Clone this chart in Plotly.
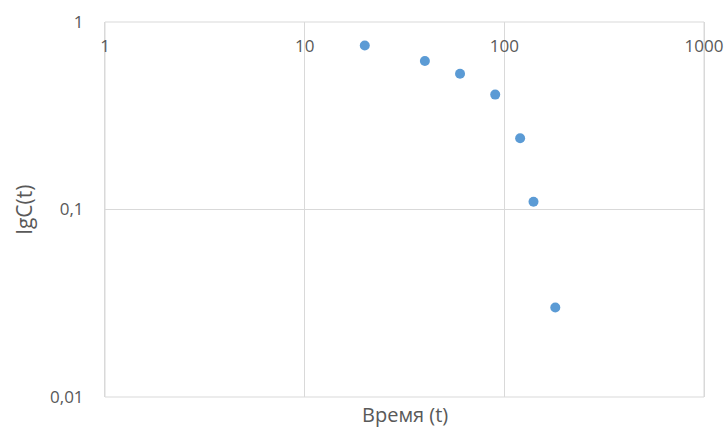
import plotly.graph_objects as go

# data
time_t = [20, 40, 60, 90, 120, 140, 180]
lg_c = [0.75, 0.62, 0.53, 0.41, 0.24, 0.11, 0.03]

x_ticks = [1, 10, 100, 1000]
x_labels = ["1", "10", "100", "1000"]
y_ticks = [0.01, 0.1, 1]
y_labels = ["0,01", "0,1", "1"]

grey = "#d9d9d9"
text_col = "#595959"
font = "Open Sans"

fig = go.Figure()
fig.add_trace(go.Scatter(
    x=time_t, y=lg_c, mode="markers",
    marker=dict(color="#5b9bd5", size=10),
    showlegend=False, cliponaxis=False,
))

fig.update_layout(
    width=724, height=427,
    margin=dict(l=105, r=20, t=22, b=30, autoexpand=False),
    paper_bgcolor="white", plot_bgcolor="white",
    font=dict(family=font, color=text_col, size=17),
    # x axis crosses at the top (y = 1), labels hang below that line
    xaxis=dict(
        type="log", range=[0, 3],
        anchor="free", position=1, side="bottom",
        tickvals=x_ticks, ticktext=x_labels,
        ticks="", ticklabelstandoff=12,
        showgrid=True, gridcolor=grey, gridwidth=1,
        showline=False, zeroline=False, automargin=False,
    ),
    yaxis=dict(
        type="log", range=[-2, 0],
        tickvals=y_ticks, ticktext=y_labels,
        ticks="", ticklabelstandoff=17,
        showgrid=True, gridcolor=grey, gridwidth=1,
        showline=True, linecolor=grey, mirror=True,
        zeroline=False, automargin=False,
        title=dict(text="lgC(t)", font=dict(size=21, color=text_col), standoff=11),
    ),
    shapes=[dict(
        type="rect", xref="paper", yref="paper", x0=0, x1=1, y0=0, y1=1,
        line=dict(color=grey, width=1), layer="below",
    )],
    annotations=[dict(
        text="Время (t)", xref="paper", yref="paper", x=0.5, y=0,
        yshift=-17, showarrow=False, yanchor="middle",
        font=dict(size=20, color=text_col),
    )],
)

# drop the default 8px body margin so the figure sits at the page corner
fig.write_html("out.html", config={"displayModeBar": False},
               post_script="document.body.style.margin='0';")
